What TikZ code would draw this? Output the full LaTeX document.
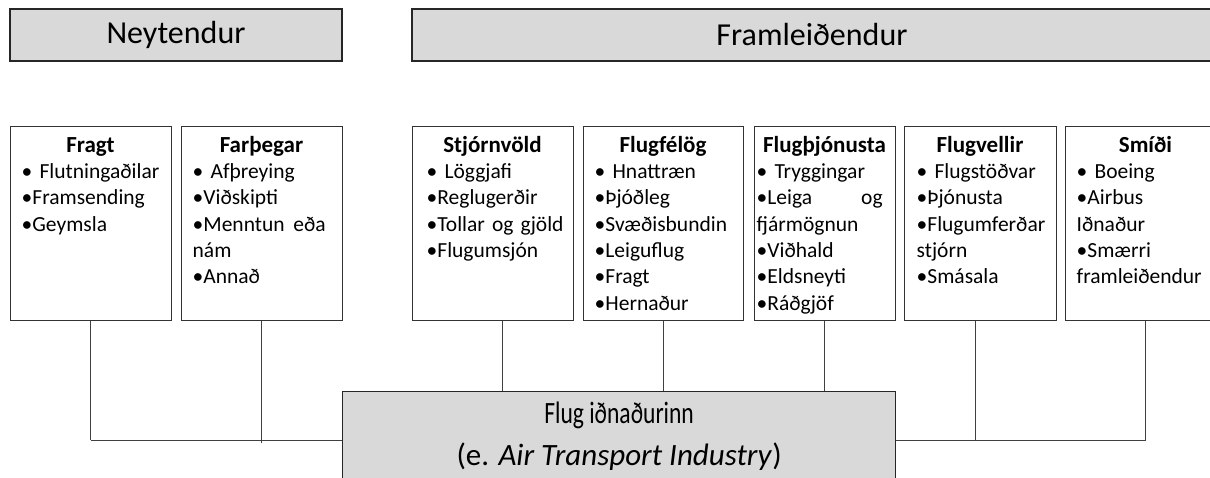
\documentclass[tikz,border=0pt]{standalone}
\usepackage{fontspec}
\usepackage{graphicx}
\setmainfont{Carlito}
\usetikzlibrary{positioning}
\definecolor{boxgray}{HTML}{D9D9D9}

\tikzset{
  group/.style={draw=black!85, line width=1.3pt, fill=boxgray, inner sep=0pt, font=\fontsize{32}{38}\selectfont},
  unit/.style={draw=black!80, line width=1pt, inner sep=0pt},
  unithead/.style={anchor=base, inner sep=0pt, font=\fontsize{23}{26}\selectfont\bfseries},
  unitlist/.style={anchor=base west, inner sep=0pt, align=left, text width=#1, font=\fontsize{21.5}{26.3}\selectfont},
  wire/.style={draw=black!75, line width=1pt},
}

\begin{document}
\begin{tikzpicture}[x=1pt,y=-1pt]
	\useasboundingbox (0,0) rectangle (1210,477);
	\clip (0,0) rectangle (1210,477);

	% draw the two group headers
	\node[group, minimum width=332pt, minimum height=52pt] (neytendur) at (176,35) {Neytendur};
	\node[group, minimum width=800pt, minimum height=52pt] (framleid) at (812,35) {Framleiðendur};

	% draw the seven boxes with their headings
	\foreach \id/\cx/\w/\head in {fragt/90.5/161/Fragt, farthegar/261.5/161/Farþegar,
		stjorn/492.5/161/Stjórnvöld, flugfelog/663/160/Flugfélög, flugthjon/824.5/141/Flugþjónusta,
		flugvellir/980/152/Flugvellir, smidi/1145.5/161/Smíði}
	{
		\node[unit, minimum width=\w pt, minimum height=194pt] (\id) at (\cx,223) {};
		\node[unithead] (\id-h) at ([yshift=-27pt]\id.north) {\head};
	}

	% draw the lists
	\node[unitlist=146pt] (fragt-l) at ([xshift=12pt,yshift=-53pt]fragt.north west)
		{• Flutningaðilar\\•Framsending\\•Geymsla};
	\node[unitlist=133pt] (farthegar-l) at ([xshift=12pt,yshift=-53pt]farthegar.north west)
		{• Afþreying\\•Viðskipti\\•Menntun\hfill eða\\nám\\•Annað};
	\node[unitlist=145pt] (stjorn-l) at ([xshift=15pt,yshift=-53pt]stjorn.north west)
		{• Löggjafi\\•Reglugerðir\\•Tollar og gjöld\\•Flugumsjón};
	\node[unitlist=145pt] (flugfelog-l) at ([xshift=12pt,yshift=-53pt]flugfelog.north west)
		{• Hnattræn\\•Þjóðleg\\•Svæðisbundin\\•Leiguflug\\•Fragt\\•Hernaður};
	\node[unitlist=126pt] (flugthjon-l) at ([xshift=3pt,yshift=-53pt]flugthjon.north west)
		{• Tryggingar\\•Leiga\hfill og\\fjármögnun\\•Viðhald\\•Eldsneyti\\•Ráðgjöf};
	\node[unitlist=138pt] (flugvellir-l) at ([xshift=13pt,yshift=-53pt]flugvellir.north west)
		{• Flugstöðvar\\•Þjónusta\\•Flugumferðar\\stjórn\\•Smásala};
	\node[unitlist=145pt] (smidi-l) at ([xshift=12pt,yshift=-53pt]smidi.north west)
		{• Boeing\\•Airbus\\Iðnaður\\•Smærri\\framleiðendur};

	% draw the bus line behind the industry box
	\coordinate (bus) at (0,440);
	\draw[wire] (fragt.south |- bus) -- (smidi.south |- bus);

	% draw the industry box
	\node[group, minimum width=553pt, minimum height=90pt, anchor=north west, align=center,
		font=\fontsize{31}{42}\selectfont] (industry) at (342,391)
		{\scalebox{0.76}[1]{Flug iðnaðurinn}\\(e. \textit{Air Transport Industry})};

	% draw lines from the boxes down
	\draw[wire] (fragt.south) -- (fragt.south |- bus);
	\draw[wire] (farthegar.south) -- ([yshift=-3pt]farthegar.south |- bus);
	\draw[wire] ([xshift=10pt]stjorn.south) -- ([xshift=10pt]stjorn.south |- industry.north);
	\draw[wire] (flugfelog.south) -- (flugfelog.south |- industry.north);
	\draw[wire] (flugthjon.south) -- (flugthjon.south |- industry.north);
	\draw[wire] ([xshift=-5pt]flugvellir.south) -- ([xshift=-5pt]flugvellir.south |- bus);
	\draw[wire] (smidi.south) -- (smidi.south |- bus);
\end{tikzpicture}
\end{document}
